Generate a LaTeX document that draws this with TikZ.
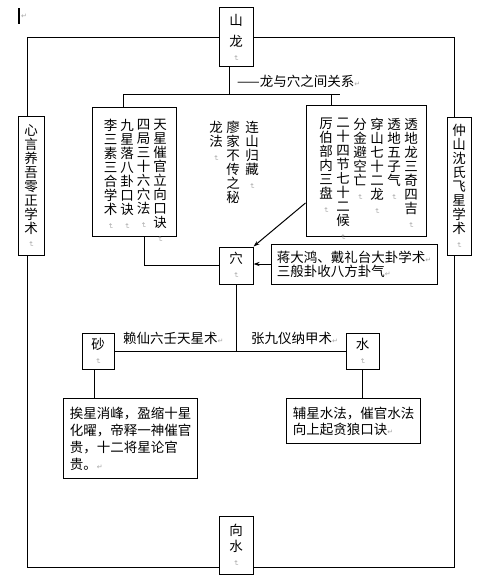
\documentclass[tikz,border=0pt]{standalone}
\usepackage{fontspec}
\setmainfont{Noto Sans CJK SC}
\newfontfamily\symfont{DejaVu Sans}
\usetikzlibrary{positioning,arrows.meta,calc}

\newcommand{\enterm}{{\color{gray!70}\symfont\fontsize{7}{7}\selectfont ↵}}
\newcommand{\venterm}{\rotatebox[origin=c]{-90}{\enterm}}

\begin{document}
\begin{tikzpicture}[x=1pt,y=-1pt,
  box/.style={rectangle,draw,line width=1pt,inner sep=0pt,fill=white,align=center,font=\fontsize{13.5}{14}\selectfont},
  vcol/.style={anchor=north,inner sep=0pt,align=center,font=\fontsize{13.5}{14}\selectfont},
  descbox/.style={box,align=left,inner sep=6pt,anchor=north west},
  link/.style={line width=1pt},
  arrow/.style={link,-{Stealth[length=6pt,width=4pt]}},
  label/.style={font=\fontsize{13.5}{14}\selectfont,inner sep=0pt,anchor=west},
]
\useasboundingbox[fill=white] (0,0) rectangle (493,585);

% cursor mark
\fill (17.5,8) rectangle (19.5,24);
\node[inner sep=0pt] (cursor) at (24,16) {\enterm};

% Top and bottom: dragon and water
\node[box,minimum width=34pt,minimum height=59pt] (shanlong) at (236,37.5) {山\\[7pt]龙\\\venterm};
\node[box,minimum width=34pt,minimum height=58pt] (xiangshui) at (236,545) {向\\[2pt]水\\\venterm};

% Side schools
\node[box,minimum width=26pt,minimum height=138pt] (xinyan) at (31,186) {心\\言\\养\\吾\\零\\正\\学\\术\\\venterm};
\node[box,minimum width=24pt,minimum height=137pt] (zhongshan) at (459,186.5) {仲\\山\\沈\\氏\\飞\\星\\学\\术\\\venterm};

% Outer frame
\draw[link] (shanlong.west) -| ([xshift=-4pt]xinyan.north);
\draw[link] (shanlong.east) -| ([xshift=-5pt]zhongshan.north);
\draw[link] ([xshift=-4pt]xinyan.south) |- ([yshift=7pt]xiangshui.south west);
\draw[link] ([xshift=-5pt]zhongshan.south) |- ([yshift=7pt]xiangshui.south east);

% Dragon to hole methods
\node[label] (relation) at (237,81) {——龙与穴之间关系\enterm};
\node[box,minimum width=84pt,minimum height=128pt] (ltext) at (134,172) {};
\node[box,minimum width=120pt,minimum height=130pt] (rtext) at (366,171) {};
\coordinate (forkR) at (340,95);
\draw[link] ([xshift=-7pt]shanlong.south) -- ([xshift=-7pt]shanlong.south |- forkR);
\draw[link] ([xshift=-11pt]ltext.north) |- (forkR);
\draw[link] ([xshift=-35pt]rtext.north) -- ([xshift=-35pt]rtext.north |- forkR);

% Left box columns
\node[vcol] (l1) at (160,119) {天\\星\\催\\官\\立\\向\\口\\诀\\\venterm};
\node[vcol] (l2) at (143.5,119) {四\\局\\三\\十\\六\\穴\\法\\\venterm};
\node[vcol] (l3) at (127,119) {九\\星\\落\\八\\卦\\口\\诀\\\venterm};
\node[vcol] (l4) at (110.5,119) {李\\三\\素\\三\\合\\学\\术\\\venterm};

% Middle columns
\node[vcol] (m1) at (252,121) {连\\山\\归\\藏\\\venterm};
\node[vcol] (m2) at (233,121) {廖\\家\\不\\传\\之\\秘};
\node[vcol] (m3) at (216,121) {龙\\法\\\venterm};

% Right box columns
\node[vcol] (r1) at (411,118) {透\\地\\龙\\三\\奇\\四\\吉\\\venterm};
\node[vcol] (r2) at (394,118) {透\\地\\五\\子\\气\\\venterm};
\node[vcol] (r3) at (377,118) {穿\\山\\七\\十\\二\\龙\\\venterm};
\node[vcol] (r4) at (360,118) {分\\金\\避\\空\\亡\\\venterm};
\node[vcol] (r5) at (343,118) {二\\十\\四\\节\\七\\十\\二\\候\\\venterm};
\node[vcol] (r6) at (326,118) {厉\\伯\\部\\内\\三\\盘\\\venterm};

% Hole
\node[box,minimum width=34pt,minimum height=37pt] (xue) at (236,265.5) {穴\\\venterm};
\node[box,minimum width=166pt,minimum height=40pt,align=left,inner sep=5pt] (jiang) at (354,264) {蒋大鸿、戴礼台大卦学术\enterm\\三般卦收八方卦气\enterm};
\draw[link] ([xshift=10pt]ltext.south) |- (xue.west);
\draw[arrow] ([yshift=-32pt]rtext.west) -- (xue.north east);
\draw[arrow] (jiang.west) -- (jiang.west -| xue.east);

% Sand and water
\node[box,minimum width=32pt,minimum height=36pt] (sha) at (98,351) {砂\\\venterm};
\node[box,minimum width=33pt,minimum height=36pt] (shui) at (362.5,351) {水\\\venterm};
\draw[link] (xue.south) -- (xue.south |- sha.east);
\draw[link] (sha.east) -- (shui.west);
\node[label] (laixian) at (123,338) {赖仙六壬天星术\enterm};
\node[label] (zhangjiu) at (251,338) {张九仪纳甲术\enterm};

% Descriptions
\node[descbox,minimum width=134pt,minimum height=80pt,font=\fontsize{13.5}{17}\selectfont] (shadesc) at (63,398) {挨星消峰，盈缩十星\\化曜，帝释一神催官\\贵，十二将星论官\\贵。\enterm};
\node[descbox,minimum width=134pt,minimum height=45pt,font=\fontsize{13.5}{16}\selectfont] (shuidesc) at (286,398) {辅星水法，催官水法\\向上起贪狼口诀\enterm};
\draw[link] ([xshift=-4pt]sha.south) -- ([xshift=-4pt]sha.south |- shadesc.north);
\draw[link] (shui.south) -- (shui.south |- shuidesc.north);

\end{tikzpicture}
\end{document}
